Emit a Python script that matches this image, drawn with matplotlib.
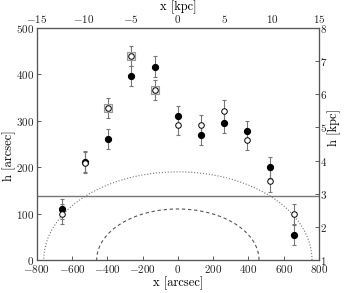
import numpy as np
import matplotlib
matplotlib.use('Agg')
import matplotlib.pyplot as plt

plt.rcParams['font.family'] = 'serif'
plt.rcParams['font.serif'] = ['cmr10', 'DejaVu Serif']
plt.rcParams['mathtext.fontset'] = 'cm'
plt.rcParams['axes.formatter.use_mathtext'] = True

# positions along the slit [arcsec]
x_pos = [-657, -524, -394, -264, -132, 0, 132, 264, 393, 525, 657]
# heights [arcsec]
h_filled = [110, 212, 261, 397, 417, 310, 269, 296, 278, 200, 54]
h_open = [99, 210, 327, 440, 366, 291, 291, 322, 259, 170, 99]
h_err = [22, 22, 22, 22, 22, 22, 22, 22, 22, 23, 22]
boxed = [2, 3, 4]  # open points with a square marker

h_line = 137
# model ellipses: (semi-axis in x [arcsec], height [arcsec])
outer = (760, 190)
inner = (460, 110)

fig = plt.figure(figsize=(3.46, 2.93), dpi=100)
ax = fig.add_axes([0.106, 0.1126, 0.816, 0.7918])

ax.errorbar(x_pos, h_filled, yerr=h_err, fmt='none', ecolor='#777777',
            elinewidth=0.8, capsize=1.5, capthick=0.8, zorder=2)
ax.errorbar(x_pos, h_open, yerr=h_err, fmt='none', ecolor='#777777',
            elinewidth=0.8, capsize=1.5, capthick=0.8, zorder=2)
ax.plot([x_pos[i] for i in boxed], [h_open[i] for i in boxed], 's', ms=5.5,
        mfc='#e4e4e4', mec='#999999', mew=0.8, zorder=3)
ax.plot(x_pos, h_filled, 'o', ms=4.2, mfc='black', mec='black', zorder=4)
ax.plot(x_pos, h_open, 'o', ms=4, mfc='white', mec='black', mew=0.7, zorder=5)

ax.axhline(h_line, color='#777777', lw=1.0, zorder=1)

t = np.linspace(0, np.pi, 300)
ax.plot(outer[0] * np.cos(t), outer[1] * np.sin(t), ':', color='#777777', lw=0.8)
ax.plot(inner[0] * np.cos(t), inner[1] * np.sin(t), '--', color='#555555', lw=0.8,
        dashes=(3, 2.5))

ax.set_xlim(-800, 800)
ax.set_ylim(0, 500)
ax.set_xticks([-800, -600, -400, -200, 0, 200, 400, 600, 800])
ax.set_yticks([0, 100, 200, 300, 400, 500])
ax.tick_params(direction='in', length=3, width=0.6, labelsize=8, top=True, right=False,
               colors='#444444', labelcolor='#222222', pad=2)
ax.set_xlabel('x [arcsec]', fontsize=9, labelpad=1)
ax.set_ylabel('h [arcsec]', fontsize=9)
ax.yaxis.set_label_coords(-0.075, 0.45)

axr = ax.twinx()
axr.set_ylim(1, 8)
axr.set_yticks([1, 2, 3, 4, 5, 6, 7, 8])
axr.tick_params(direction='in', length=3, width=0.6, labelsize=8, colors='#444444',
                labelcolor='#222222', pad=1)
axr.set_ylabel('h [kpc]', fontsize=9)
axr.yaxis.set_label_coords(1.03, 0.57)

axt = ax.twiny()
axt.set_xlim(-15, 15)
axt.set_xticks([-15, -10, -5, 0, 5, 10, 15])
axt.tick_params(direction='in', length=0, labelsize=8, labelcolor='#222222', pad=2)
axt.set_xlabel('x [kpc]', fontsize=9, labelpad=2)

for a in (ax, axr, axt):
    for s in a.spines.values():
        s.set_color('#555555')
        s.set_linewidth(0.8)

fig.savefig('out.png', dpi=100)
